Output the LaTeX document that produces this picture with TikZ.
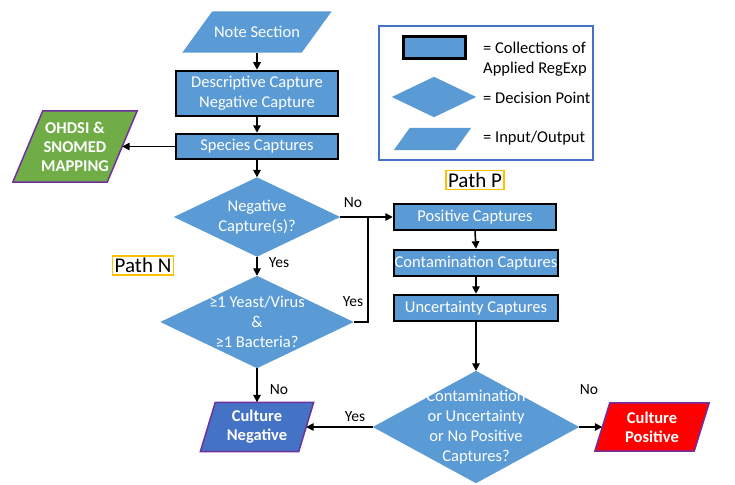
\documentclass[tikz,border=0pt]{standalone}
\usepackage{fontspec}
\setmainfont{Carlito}
\usetikzlibrary{calc,backgrounds,arrows.meta}
\definecolor{boxblue}{HTML}{5B9BD5}
\definecolor{negblue}{HTML}{4472C4}
\definecolor{mapgreen}{HTML}{70AD47}
\definecolor{edgepurple}{HTML}{7030A0}
\definecolor{posred}{HTML}{FF0000}
\definecolor{gold}{HTML}{FFC000}
\definecolor{legendedge}{HTML}{4472C4}
\newcommand\parashape[4]{\path[fill=#3,draw=#4,line width=1.5pt] ($(#1.north west)+(#2,0)$) -- ($(#1.north east)+(#2,0)$) -- ($(#1.south east)+(-#2,0)$) -- ($(#1.south west)+(-#2,0)$) -- cycle;}
\newcommand\diashape[1]{\path[fill=boxblue] (#1.north) -- (#1.east) -- (#1.south) -- (#1.west) -- cycle;}
\begin{document}
\begin{tikzpicture}[x=1pt,y=-1pt,
  every node/.style={font=\fontsize{16.5}{20}\selectfont, inner sep=0pt, align=center},
  capbox/.style={draw=black, line width=2.5pt, fill=boxblue, text=white, minimum width=162pt},
  shapetext/.style={text=white},
  outtext/.style={text=white, font=\fontsize{16.5}{19}\selectfont\bfseries},
  pathlabel/.style={draw=gold, line width=1.5pt, font=\fontsize{21}{24}\selectfont, inner xsep=2pt, inner ysep=2pt},
  lbl/.style={font=\fontsize{15.5}{18}\selectfont},
  arr/.style={line width=1.6pt, -{Triangle[length=7.5pt,width=7.5pt]}},
  conn/.style={line width=1.6pt}
]
\useasboundingbox (0,0) rectangle (735,484);

% main flow
\node[shapetext, minimum width=119pt, minimum height=41pt] (ns) at (257,32) {Note Section};
\node[capbox, minimum height=45pt] (desc) at (257,93.5) {Descriptive Capture\\Negative Capture};
\node[capbox, minimum height=25pt] (spec) at (257,146.5) {Species Captures};
\node[outtext, minimum width=94pt, minimum height=71pt] (ohdsi) at (75,146.5) {OHDSI \&\\SNOMED\\MAPPING};
\node[shapetext, minimum width=166pt, minimum height=79pt] (d1) at (257,217) {Negative\\Capture(s)?};
\node[shapetext, minimum width=193pt, minimum height=92pt] (d2) at (257,322) {≥1 Yeast/Virus\\\&\\≥1 Bacteria?};
\node[capbox, minimum height=26pt] (pos) at (475,217) {Positive Captures};
\node[capbox, minimum height=26pt, minimum width=164pt] (cont) at (476,263) {Contamination Captures};
\node[capbox, minimum height=26pt, minimum width=164pt] (unc) at (476,308) {Uncertainty Captures};
\node[shapetext, minimum width=206pt, minimum height=112pt] (d3) at (476,427) {Contamination\\or Uncertainty\\or No Positive\\Captures?};
\node[outtext, minimum width=98pt, minimum height=49pt] (cneg) at (257,427) {Culture\\Negative};
\node[outtext, minimum width=99pt, minimum height=48pt] (cpos) at (652,427) {Culture\\Positive};

\node[pathlabel] (pathN) at (143,265.5) {Path N};
\node[pathlabel] (pathP) at (475,180) {Path P};

% legend
\node[draw=legendedge, line width=1.5pt, minimum width=214pt, minimum height=134pt] (legend) at (486,93) {};
\node[draw=black, line width=2.5pt, fill=boxblue, minimum width=62pt, minimum height=22pt] (lrect) at (434.5,47.5) {};
\node[minimum width=84pt, minimum height=40pt] (ldia) at (434,97) {};
\node[minimum width=61pt, minimum height=22pt] (lpara) at (432.5,139) {};
\node[anchor=west, align=left] (ltxt1) at (483,59) {= Collections of\\Applied RegExp};
\node[anchor=west] (ltxt2) at (483,98) {= Decision Point};
\node[anchor=west] (ltxt3) at (483,138) {= Input/Output};

\begin{pgfonlayer}{background}
  \parashape{ns}{15}{boxblue}{none}
  \parashape{ohdsi}{15}{mapgreen}{edgepurple}
  \parashape{cneg}{7.5}{negblue}{edgepurple}
  \parashape{cpos}{7.5}{posred}{edgepurple}
  \parashape{lpara}{8}{boxblue}{none}
  \diashape{d1}
  \diashape{d2}
  \diashape{d3}
  \diashape{ldia}
\end{pgfonlayer}

% connectors
\coordinate (j) at (368,217);
\draw[arr] (ns.south) -- (desc.north);
\draw[arr] (desc.south) -- (spec.north);
\draw[arr] (spec.west) -- (ohdsi.east);
\draw[arr] (spec.south) -- (d1.north);
\draw[arr] (d1.east) -- (pos.west);
\draw[conn] (d2.east) -| (j);
\draw[arr] (d1.south) -- (d2.north);
\draw[arr] (pos.south) -- (cont.north);
\draw[arr] (cont.south) -- (unc.north);
\draw[arr] (unc.south) -- (d3.north);
\draw[arr] (d2.south) -- (cneg.north);
\draw[arr] (d3.west) -- (cneg.east);
\draw[arr] (d3.east) -- (cpos.west);

% labels
\node[lbl] (l1) at (353,203) {No};
\node[lbl] (l2) at (279,263) {Yes};
\node[lbl] (l3) at (353,302) {Yes};
\node[lbl] (l4) at (279,390) {No};
\node[lbl] (l5) at (355,417) {Yes};
\node[lbl] (l6) at (589,390) {No};
\end{tikzpicture}
\end{document}
